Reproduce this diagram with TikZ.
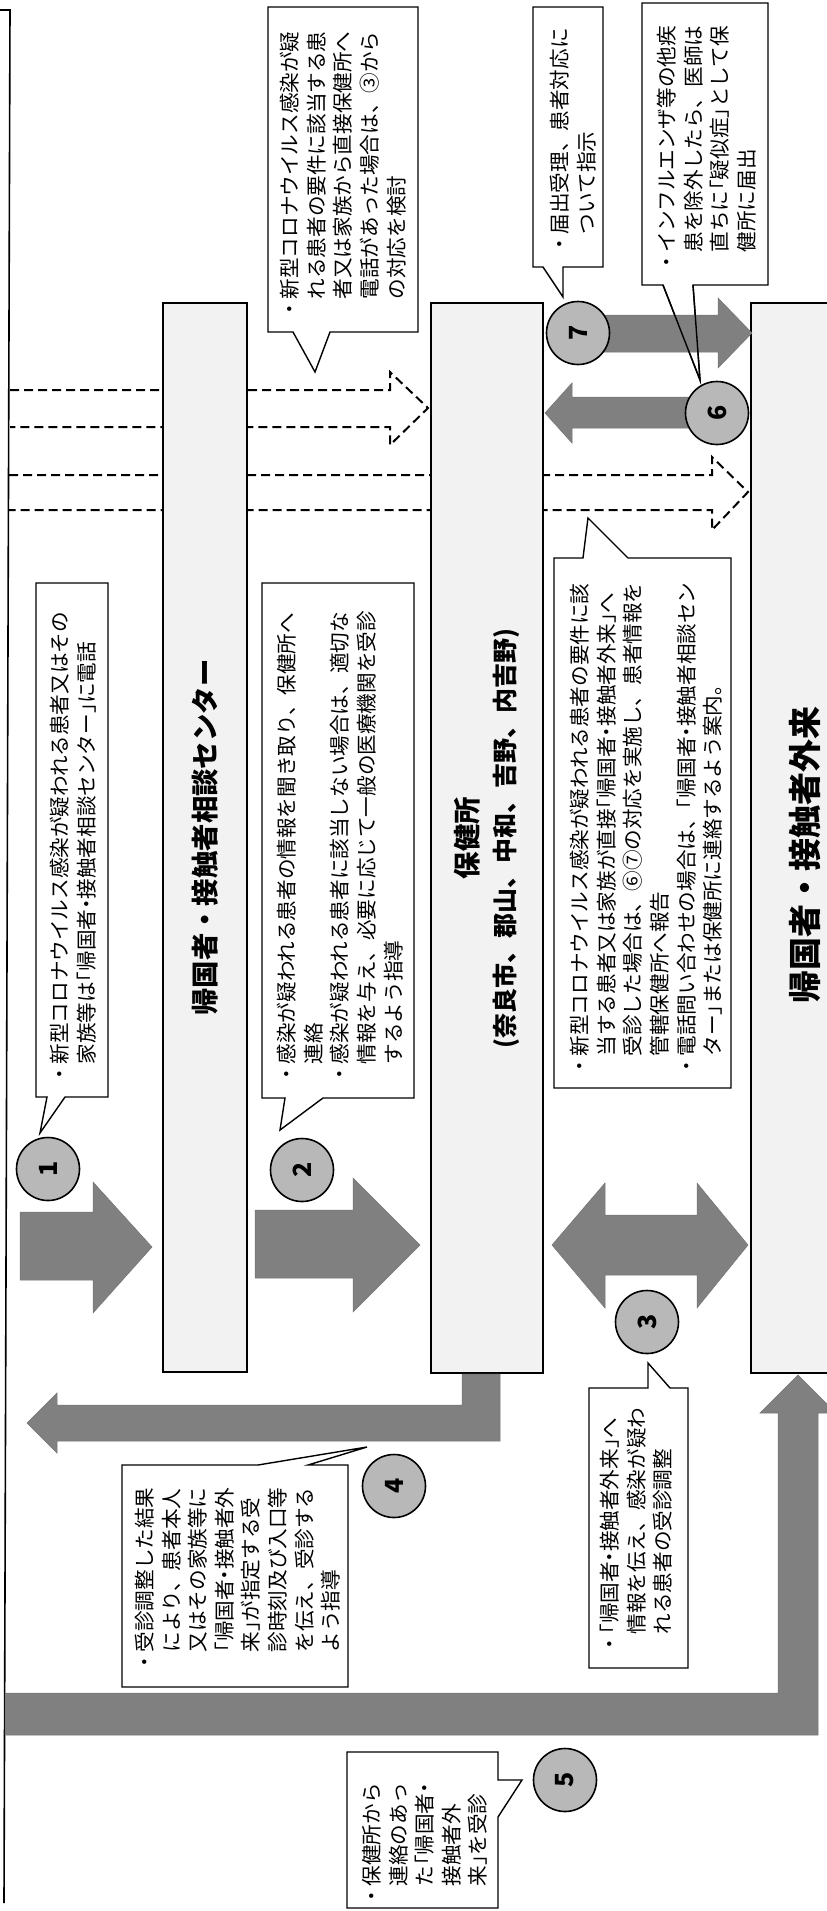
\documentclass[tikz,border=0pt]{standalone}
\usepackage{fontspec}
\newfontfamily\jp{Noto Sans CJK JP}
\newcommand{\kl}{\makebox[0.5em][r]{「}}
\newcommand{\kr}{\makebox[0.5em][l]{」}}
\newcommand{\nk}{\makebox[0.5em]{・}}
\newcommand{\ind}{\hspace*{1em}}
\begin{document}
\begin{tikzpicture}[x=1pt,y=-1pt,
  mainbox/.style={draw=black, line width=2.4pt, fill=black!5, rotate=90, inner sep=0pt, align=center},
  titlefont/.style={font=\jp\bfseries\fontsize{27.4}{37}\selectfont},
  callout/.style={draw=black, line width=1.4pt, fill=white, line join=miter},
  ctext/.style={rotate=90, anchor=north west, inner sep=0pt, align=left, font=\jp\fontsize{20.6}{26.6}\selectfont},
  bigarrow/.style={fill=black!50, draw=black!55, line width=0.5pt},
  dasharrow/.style={draw=black, line width=2pt, dash pattern=on 9pt off 5pt},
  numc/.style={circle, draw=black, line width=1.6pt, fill=black!28, minimum size=63pt, inner sep=0pt, rotate=90, font=\jp\bfseries\fontsize{25}{25}\selectfont}]
\useasboundingbox (0,0) rectangle (827,1911);
\fill[white] (0,0) rectangle (827,1911);
% page border
\coordinate (bt) at (10,10);
\coordinate (bb) at (4,1903);
\draw[line width=1.6pt] (0,10) -- (bt) -- (bb);
% dashed arrows
\draw[dasharrow] (10,390) -- (390,390) -- (390,372) -- (428,408) -- (390,445) -- (390,427) -- (10,427);
\draw[dasharrow] (9,475) -- (712,475) -- (712,457) -- (748,492) -- (712,530) -- (712,510) -- (9,510);
% main boxes
\node[mainbox, titlefont, minimum width=1069pt, minimum height=84pt] (center) at (205,837.5) {帰国者・接触者相談センター};
\node[mainbox, titlefont, minimum width=1070pt, minimum height=112pt] (hc) at (487,838) {保健所\\{\fontsize{25}{37}\selectfont (奈良市、郡山、中和、吉野、内吉野)}};
\node[mainbox, minimum width=1070pt, minimum height=108pt] (clinic) at (805,838) {};
\node[rotate=90, inner sep=0pt, font=\jp\bfseries\fontsize{33}{33}\selectfont] (clinict) at (805,855) {帰国者・接触者外来};
% callouts
\draw[callout] (268,7) -- (418,7) -- (418,332) -- (330,332) -- (315,372) -- (293,332) -- (268,332) -- cycle;
\draw[callout] (533,7) -- (603,7) -- (603,267) -- (563,267) -- (563,297) -- (543,267) -- (533,267) -- cycle;
\draw[callout] (642,3) -- (768,3) -- (768,285) -- (693,285) -- (700,380) -- (663,285) -- (642,285) -- cycle;
\draw[callout] (36,583) -- (108,583) -- (108,1097) -- (65,1097) -- (40,1133) -- (47,1097) -- (36,1097) -- cycle;
\draw[callout] (262,583) -- (414,583) -- (414,1098) -- (323,1098) -- (280,1130) -- (285,1098) -- (262,1098) -- cycle;
\draw[callout] (554,558) -- (583,558) -- (588,518) -- (628,558) -- (731,558) -- (731,1088) -- (554,1088) -- cycle;
\draw[callout] (589,1388) -- (648,1388) -- (648,1363) -- (670,1388) -- (688,1388) -- (688,1668) -- (589,1668) -- cycle;
\draw[callout] (122,1465) -- (258,1465) -- (367,1447) -- (308,1465) -- (348,1465) -- (348,1687) -- (122,1687) -- cycle;
\draw[callout] (347,1752) -- (498,1752) -- (498,1780) -- (522,1780) -- (498,1817) -- (498,1908) -- (347,1908) -- cycle;
% big arrows
\draw[bigarrow] (20,1212) -- (93,1212) -- (93,1182) -- (152,1247) -- (93,1313) -- (93,1280) -- (20,1280) -- cycle;
\draw[bigarrow] (255,1210) -- (353,1210) -- (353,1178) -- (420,1245) -- (353,1312) -- (353,1278) -- (255,1278) -- cycle;
\draw[bigarrow] (552,1245) -- (605,1183) -- (605,1215) -- (697,1215) -- (697,1183) -- (748,1245) -- (697,1308) -- (697,1275) -- (605,1275) -- (605,1308) -- cycle;
\draw[bigarrow] (462,1374) -- (500,1374) -- (500,1441) -- (57,1441) -- (57,1453) -- (27,1423) -- (57,1393) -- (57,1405) -- (462,1405) -- cycle;
\draw[bigarrow] (5,1693) -- (778,1693) -- (778,1413) -- (760,1413) -- (798,1375) -- (836,1413) -- (818,1413) -- (818,1735) -- (5,1735) -- cycle;
\draw[bigarrow] (717,397) -- (572,397) -- (572,383) -- (545,413) -- (572,443) -- (572,428) -- (717,428) -- cycle;
\draw[bigarrow] (578,315) -- (718,315) -- (718,298) -- (752,333) -- (718,368) -- (718,352) -- (578,352) -- cycle;
\draw[line width=1.4pt] (663,285) -- (700,380) -- (693,285);
% numbered circles
\node[numc] (n1) at (48,1169) {1};
\node[numc] (n2) at (302,1170) {2};
\node[numc] (n3) at (647,1322) {3};
\node[numc] (n4) at (394,1486) {4};
\node[numc] (n5) at (565,1780) {5};
\node[numc] (n6) at (717,413) {6};
\node[numc] (n7) at (578,333) {7};
% callout texts
\node[ctext] (t0) at (280,320) {・新型コロナウイルス感染が疑\\\ind れる患者の要件に該当する患\\\ind 者又は家族から直接保健所へ\\\ind 電話があった場合は、③から\\\ind の対応を検討};
\node[ctext] (t7) at (550,255) {・届出受理、患者対応に\\\ind ついて指示};
\node[ctext] (t6) at (657,273) {・インフルエンザ等の他疾\\\ind 患を除外したら、医師は\\\ind 直ちに\kl 疑似症\kr として保\\\ind 健所に届出};
\node[ctext] (t1) at (50,1085) {・新型コロナウイルス感染が疑われる患者又はその\\\ind 家族等は\kl 帰国者\nk 接触者相談センター\kr に電話};
\node[ctext] (t2) at (277,1085) {・感染が疑われる患者の情報を聞き取り、保健所へ\\\ind 連絡\\・感染が疑われる患者に該当しない場合は、適切な\\\ind 情報を与え、必要に応じて一般の医療機関を受診\\\ind するよう指導};
\node[ctext] (t3a) at (570,1077) {・新型コロナウイルス感染が疑われる患者の要件に該\\\ind 当する患者又は家族が直接\kl 帰国者\nk 接触者外来\kr へ\\\ind 受診した場合は、⑥⑦の対応を実施し、患者情報を\\\ind 管轄保健所へ報告\\・電話問い合わせの場合は、\kl 帰国者\nk 接触者相談セン\\\ind ター\kr または保健所に連絡するよう案内。};
\node[ctext] (t3b) at (600,1655) {・\kl 帰国者\nk 接触者外来\kr へ\\\ind 情報を伝え、感染が疑わ\\\ind れる患者の受診調整};
\node[ctext] (t4) at (135,1673) {・受診調整した結果\\\ind により、患者本人\\\ind 又はその家族等に\\\ind \kl 帰国者\nk 接触者外\\\ind 来\kr が指定する受\\\ind 診時刻及び入口等\\\ind を伝え、受診する\\\ind よう指導};
\node[ctext] (t5) at (362,1907) {・保健所から\\\ind 連絡のあっ\\\ind た\kl 帰国者\nk \\\ind 接触者外\\\ind 来\kr を受診};
\end{tikzpicture}
\end{document}
